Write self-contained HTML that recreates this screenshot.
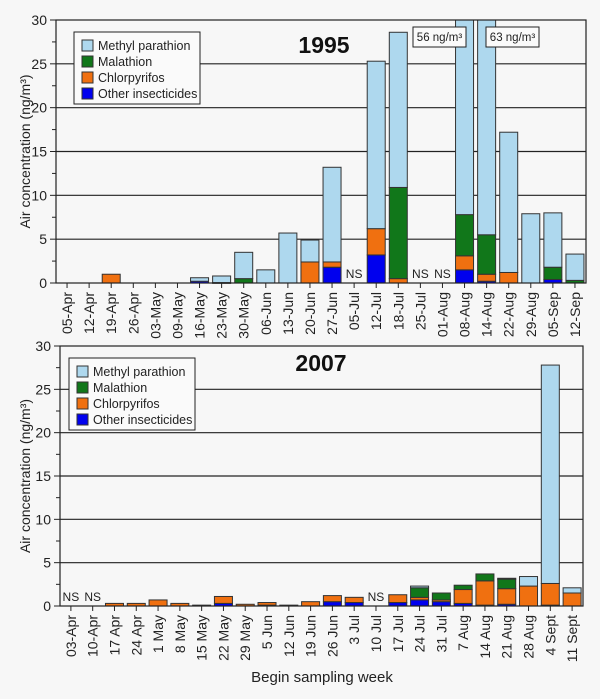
<!DOCTYPE html>
<html><head><meta charset="utf-8"><style>
body{margin:0;background:#f7f7f7;font-family:"Liberation Sans",sans-serif}
svg{display:block}
</style></head><body>
<svg id="s" width="600" height="699"></svg>
<script>
const cats1995=["05-Apr","12-Apr","19-Apr","26-Apr","03-May","09-May","16-May","23-May","30-May","06-Jun","13-Jun","20-Jun","27-Jun","05-Jul","12-Jul","18-Jul","25-Jul","01-Aug","08-Aug","14-Aug","22-Aug","29-Aug","05-Sep","12-Sep"];
const other1995=[0,0,0,0,0,0,0.2,0.05,0,0,0,0,1.8,0,3.2,0,0,0,1.5,0.2,0,0,0.4,0];
const chlor1995=[0,0,1.0,0,0,0,0,0,0,0,0,2.4,0.6,0,3.0,0.5,0,0,1.6,0.8,1.2,0,0,0];
const mal1995=[0,0,0,0,0,0,0,0,0.5,0,0,0,0,0,0,10.4,0,0,4.7,4.5,0,0,1.4,0.3];
const meth1995=[0,0,0,0,0,0,0.4,0.75,3.0,1.5,5.7,2.5,10.8,0,19.1,17.7,0,0,48.2,57.5,16.0,7.9,6.2,3.0];
const ns1995=["05-Jul","25-Jul","01-Aug"];
const cats2007=["03-Apr","10-Apr","17 Apr","24 Apr","1 May","8 May","15 May","22 May","29 May","5 Jun","12 Jun","19 Jun","26 Jun","3 Jul","10 Jul","17 Jul","24 Jul","31 Jul","7 Aug","14 Aug","21 Aug","28 Aug","4 Sept","11 Sept"];
const other2007=[0,0,0,0,0,0,0,0.3,0,0.1,0,0,0.5,0.4,0,0.4,0.7,0.5,0.3,0.1,0.2,0,0.1,0];
const chlor2007=[0,0,0.3,0.3,0.7,0.3,0.1,0.8,0.2,0.3,0.1,0.5,0.7,0.6,0,0.9,0.3,0.2,1.6,2.8,1.8,2.3,2.5,1.5];
const mal2007=[0,0,0,0,0,0,0,0,0,0,0,0,0,0,0,0,1.1,0.8,0.5,0.8,1.1,0,0,0];
const meth2007=[0,0,0,0,0,0,0,0,0,0,0,0,0,0,0,0,0.2,0,0,0,0.1,1.1,25.2,0.6];
const ns2007=["03-Apr","10-Apr","10 Jul"];
const yTicks=[0,5,10,15,20,25,30];
const colors=["#0000ee","#f07010","#11771a","#aed8ee"];
const legendNames=["Methyl parathion","Malathion","Chlorpyrifos","Other insecticides"];
const S=document.getElementById('s');const NS="http://www.w3.org/2000/svg";
function mk(t,a,p){const e=document.createElementNS(NS,t);for(const k in a)e.setAttribute(k,a[k]);(p||S).appendChild(e);return e;}
function chart(o){
 const g=mk('g',{});
 
 
 const y=v=>o.y0-(Math.min(v,30)/30)*(o.y0-o.y30);
 const step=(o.xr-o.xl)/o.cats.length;
 const x=i=>o.xl+step*(i+0.5);
 // gridlines
 yTicks.forEach(t=>{if(t>0&&t<30){const l=mk('line',{x1:o.xl,x2:o.xr,y1:y(t),y2:y(t),stroke:'#222','stroke-width':1.2},g);}
  const tk=mk('line',{x1:o.xl-6,x2:o.xl,y1:y(t),y2:y(t),stroke:'#222'},g);
  const tx=mk('text',{x:o.xl-9,y:y(t)+5,'text-anchor':'end','font-size':14,fill:'#222'},g);tx.textContent=t;
  });
 for(let t=2.5;t<30;t+=5)mk('line',{x1:o.xl-4,x2:o.xl,y1:y(t),y2:y(t),stroke:'#222'},g);
 // legend
 const lg=mk('g',{},g);
 mk('rect',{x:o.lx,y:o.ly,width:126,height:72,fill:'#fafafa',stroke:'#222'},lg);
 legendNames.forEach((n,i)=>{const c=[3,2,1,0][i];
  const r=mk('rect',{x:o.lx+8,y:o.ly+8+i*16,width:11,height:11,fill:colors[c],stroke:'#333'},lg);
  
  const t=mk('text',{x:o.lx+24,y:o.ly+18+i*16,'font-size':12.5,fill:'#222'},lg);t.textContent=n;
  });
 // bars
 const series=[o.other,o.chlor,o.mal,o.meth];
 o.cats.forEach((c,i)=>{let base=0;const bw=18;
  series.forEach((s,k)=>{const v=s[i];if(v<=0)return;
   const r=mk('rect',{x:x(i)-bw/2,y:y(base+v),width:bw,height:Math.max(y(base)-y(base+v),0.8),fill:colors[k],stroke:'#333','stroke-width':1},g);
   
   
   base+=v;});
  if(o.ns.includes(c)){const t=mk('text',{x:x(i),y:o.y0-5,'text-anchor':'middle','font-size':12,fill:'#222'},g);t.textContent='NS';
   }
  mk('line',{x1:x(i),x2:x(i),y1:o.y0,y2:o.y0+5,stroke:'#222'},g);
  const t=mk('text',{transform:`translate(${x(i)+5},${o.y0+9}) rotate(-90)`,'text-anchor':'end','font-size':14,fill:'#222'},g);t.textContent=c;
  
 });
 const fr=mk('rect',{x:o.xl,y:o.y30,width:o.xr-o.xl,height:o.y0-o.y30,fill:'none',stroke:'#222','stroke-width':1.2},g);
 
 const tt=mk('text',{x:o.tx,y:o.ty,'text-anchor':'middle','font-size':23,'font-weight':'bold',fill:'#111'},g);tt.textContent=o.title;
 
 const ya=mk('text',{transform:`translate(30,${(o.y0+o.y30)/2}) rotate(-90)`,'text-anchor':'middle','font-size':14,fill:'#222'},g);ya.textContent='Air concentration (ng/m³)';
 
}
chart({name:'chart-1995',cats:cats1995,other:other1995,chlor:chlor1995,mal:mal1995,meth:meth1995,ns:ns1995,xl:56,xr:586,y0:283,y30:20,lx:74,ly:32,title:'1995',tx:324,ty:53});
chart({name:'chart-2007',cats:cats2007,other:other2007,chlor:chlor2007,mal:mal2007,meth:meth2007,ns:ns2007,xl:60,xr:583,y0:606,y30:346,lx:69,ly:358,title:'2007',tx:321,ty:371});
[["56 ng/m³",413],["63 ng/m³",486]].forEach(([t,xx])=>{
 const b=mk('rect',{x:xx,y:27,width:53,height:20,fill:'#fafafa',stroke:'#222'});
 
 const tx=mk('text',{x:xx+26.5,y:41,'text-anchor':'middle','font-size':11.5,fill:'#222'});tx.textContent=t;
 });
const xt=mk('text',{x:322,y:682,'text-anchor':'middle','font-size':15,fill:'#222'});xt.textContent='Begin sampling week';


</script>
</body></html>
